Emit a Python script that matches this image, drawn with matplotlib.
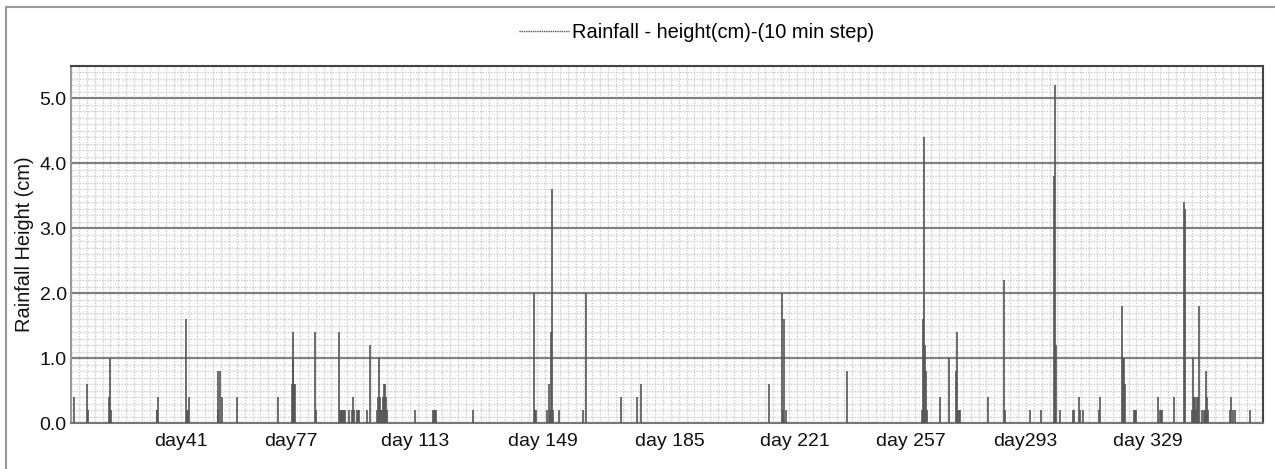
import matplotlib
matplotlib.use('Agg')
import matplotlib.pyplot as plt
import numpy as np
from matplotlib.lines import Line2D
from matplotlib.patches import Rectangle

plt.rcParams['font.family'] = ['Liberation Sans', 'DejaVu Sans']

# rainfall spikes (day of year, height in cm)
days = [9.1, 13.0, 13.3, 19.6, 19.9, 20.2, 33.9, 34.0, 34.2, 42.5, 42.8, 43.1, 43.4,
        51.9, 52.0, 52.6, 53.2, 57.7, 69.9, 74.1, 74.3, 74.5, 74.7, 75.0, 80.9, 81.2,
        88.1, 88.4, 88.6, 88.8, 89.0, 89.2, 89.5, 89.8, 91.0, 91.9, 92.2, 92.5, 93.4,
        93.6, 93.9, 96.4, 97.3, 99.4, 99.7, 100.0, 100.3, 100.6, 100.9, 101.2, 101.5,
        101.8, 102.1, 102.4, 110.7, 116.0, 116.2, 116.5, 116.9, 128.0, 146.1, 146.4,
        146.7, 150.0, 150.6, 150.9, 151.2, 151.5, 151.8, 153.6, 160.7, 161.6, 172.0,
        176.8, 178.0, 216.1, 220.0, 220.3, 220.6, 221.2, 239.3, 261.7, 262.0, 262.3,
        262.6, 262.9, 263.2, 267.0, 269.7, 271.8, 272.1, 272.4, 272.7, 273.0, 281.3,
        286.1, 286.4, 293.8, 297.1, 301.0, 301.3, 301.6, 302.8, 306.6, 306.9, 308.4,
        308.7, 309.6, 314.5, 314.7, 321.2, 321.5, 321.8, 322.1, 324.8, 325.1, 325.4,
        332.0, 332.6, 332.9, 333.2, 336.7, 339.7, 340.0, 342.1, 342.4, 342.7, 343.0,
        343.3, 343.6, 343.9, 344.2, 345.0, 345.5, 345.9, 346.2, 346.5, 346.8, 353.4,
        353.7, 354.3, 354.9, 359.3]
rain = [0.4, 0.6, 0.2, 0.4, 1.0, 0.2, 0.2, 0.2, 0.4, 1.6, 0.2, 0.2, 0.4,
        0.2, 0.8, 0.8, 0.4, 0.4, 0.4, 0.6, 1.4, 1.0, 0.6, 0.6, 1.4, 0.2,
        1.4, 0.2, 0.2, 0.2, 0.2, 0.2, 0.2, 0.2, 0.2, 0.2, 0.4, 0.2, 0.2,
        0.2, 0.2, 0.2, 1.2, 0.2, 0.4, 1.0, 0.4, 0.2, 0.2, 0.4, 0.6,
        0.6, 0.4, 0.2, 0.2, 0.2, 0.2, 0.2, 0.2, 0.2, 2.0, 0.2,
        0.2, 0.2, 0.6, 0.2, 1.4, 3.6, 0.2, 0.2, 0.2, 2.0, 0.4,
        0.4, 0.6, 0.6, 2.0, 0.2, 1.6, 0.2, 0.8, 0.2, 1.6, 4.4,
        1.2, 0.8, 0.2, 0.4, 1.0, 0.8, 1.4, 0.2, 0.2, 0.2, 0.4,
        2.2, 0.2, 0.2, 0.2, 3.8, 5.2, 1.2, 0.2, 0.2, 0.2, 0.4,
        0.2, 0.2, 0.2, 0.4, 1.8, 1.0, 1.0, 0.6, 0.2, 0.2, 0.2,
        0.4, 0.2, 0.2, 0.2, 0.4, 3.4, 3.3, 0.2, 1.0, 0.4, 0.4,
        0.2, 0.4, 0.4, 1.8, 0.2, 0.2, 0.2, 0.8, 0.4, 0.2, 0.2,
        0.4, 0.2, 0.2, 0.2]

tick_pos = [41.0, 73.8, 110.7, 148.8, 186.6, 223.9, 258.4, 292.3, 328.9]
tick_labels = ['day41', 'day77', 'day 113', 'day 149', 'day 185', 'day 221',
               'day 257', 'day293', 'day 329']

fig = plt.figure(figsize=(12.75, 4.69), dpi=100)
ax = fig.add_axes([71/1275, 1 - 423/469, 1192/1275, 357/469])

ax.vlines(days, 0, rain, color='#555555', lw=1.2, zorder=3)

ax.set_xlim(8.25, 363.2)
ax.set_ylim(0, 5.5)

ax.set_yticks(np.arange(0, 5.1, 1.0))
ax.set_yticklabels([f"{v:.1f}" for v in np.arange(0, 5.1, 1.0)])
ax.set_yticks(np.arange(0, 5.51, 0.1), minor=True)
ax.set_xticks(tick_pos)
ax.set_xticklabels(tick_labels)
ax.set_xticks(np.arange(8.25, 363.2, 2.35), minor=True)

ax.tick_params(which='both', length=0, labelsize=14, colors='#111111')
ax.tick_params(axis='x', pad=7)
ax.tick_params(axis='y', pad=3)

ax.grid(which='minor', axis='both', color='#cccccc', ls=(0, (1, 1)), lw=1, zorder=0)
ax.grid(which='major', axis='y', color='#808080', lw=1.6, zorder=1)
ax.grid(which='major', axis='x', visible=False)

ax.spines['top'].set_color('#444444')
ax.spines['right'].set_color('#444444')
ax.spines['left'].set_color('#999999')
ax.spines['bottom'].set_color('#777777')
for s in ax.spines.values():
    s.set_linewidth(1.5)

ax.set_ylabel('Rainfall Height (cm)', fontsize=14.4, color='#111111')
ax.yaxis.set_label_coords(-0.031, 0.5)

# legend at top
handle = Line2D([], [], color='#555555', lw=1, ls=(0, (1, 0.6)))
ax.legend([handle], ['Rainfall - height(cm)-(10 min step)'], loc='center',
          bbox_to_anchor=(697/1275, 1 - 33/469), bbox_transform=fig.transFigure,
          frameon=False, fontsize=14.4, handlelength=2.5, handletextpad=0.15,
          borderpad=0)

# outer frame of the figure
fig.add_artist(Rectangle((6/1275, -0.1), 1.1, 462/469 + 0.1, transform=fig.transFigure,
                         fill=False, edgecolor='#999999', lw=1.5))

plt.savefig('out.png', dpi=100)
plt.close()
